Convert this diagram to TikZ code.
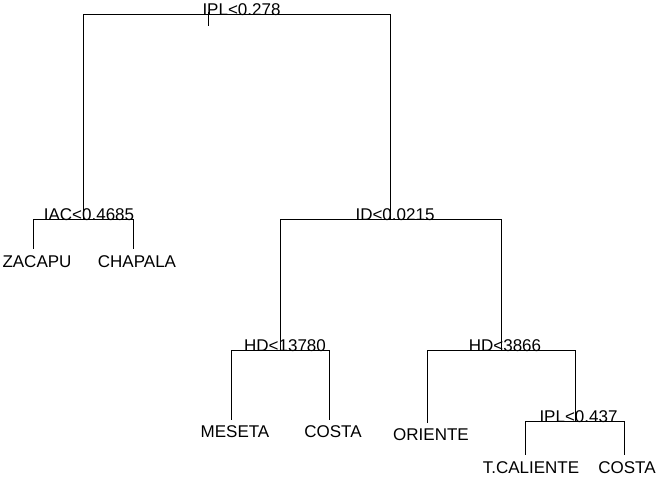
\documentclass[tikz,border=0pt]{standalone}
\usepackage{fontspec}
\setmainfont{Liberation Sans}
\begin{document}
\begin{tikzpicture}[x=1pt,y=-1pt,
  edge/.style={draw=black,line width=1pt},
  lbl/.style={anchor=base,inner sep=0pt,font=\fontsize{17}{20}\selectfont}]
\useasboundingbox (0,0) rectangle (658,477);
% split points
\coordinate (root) at (236.5,14.5);
\coordinate (iac) at (83.5,219.5);
\coordinate (idn) at (390.5,219.5);
\coordinate (hda) at (280.5,350.5);
\coordinate (hdb) at (501.5,350.5);
\coordinate (ipl) at (575.5,421.5);
% leaf ends
\coordinate (zac) at (33.5,248.5);
\coordinate (cha) at (133.5,248.5);
\coordinate (mes) at (231.5,419.5);
\coordinate (cos1) at (329.5,419.5);
\coordinate (ori) at (427.5,422.5);
\coordinate (tca) at (525.5,454.5);
\coordinate (cos2) at (624.5,454.5);
\coordinate (tickA) at (208.5,12);
\coordinate (tickB) at (208.5,26);
% edges
\draw[edge] (iac) |- (root) -| (idn);
\draw[edge] (tickA) -- (tickB);
\draw[edge] (zac) |- (iac) -| (cha);
\draw[edge] (hda) |- (idn) -| (hdb);
\draw[edge] (mes) |- (hda) -| (cos1);
\draw[edge] (ori) |- (hdb) -| (ipl);
\draw[edge] (tca) |- (ipl) -| (cos2);
% split labels
\node[lbl] (troot) at (241.5,15) {IPL<0.278};
\node[lbl] (tiac) at (89,220) {IAC<0.4685};
\node[lbl] (tidn) at (395,220) {ID<0.0215};
\node[lbl] (thda) at (285,351) {HD<13780};
\node[lbl] (thdb) at (505,351) {HD<3866};
\node[lbl] (tipl) at (578.5,422) {IPL<0.437};
% leaf labels
\node[lbl] (tzac) at (37,267) {ZACAPU};
\node[lbl] (tcha) at (137,267) {CHAPALA};
\node[lbl] (tmes) at (235,437) {MESETA};
\node[lbl] (tcos1) at (333,437) {COSTA};
\node[lbl] (tori) at (431,440) {ORIENTE};
\node[lbl] (ttca) at (531,473) {T.CALIENTE};
\node[lbl] (tcos2) at (627,473) {COSTA};
\end{tikzpicture}
\end{document}
